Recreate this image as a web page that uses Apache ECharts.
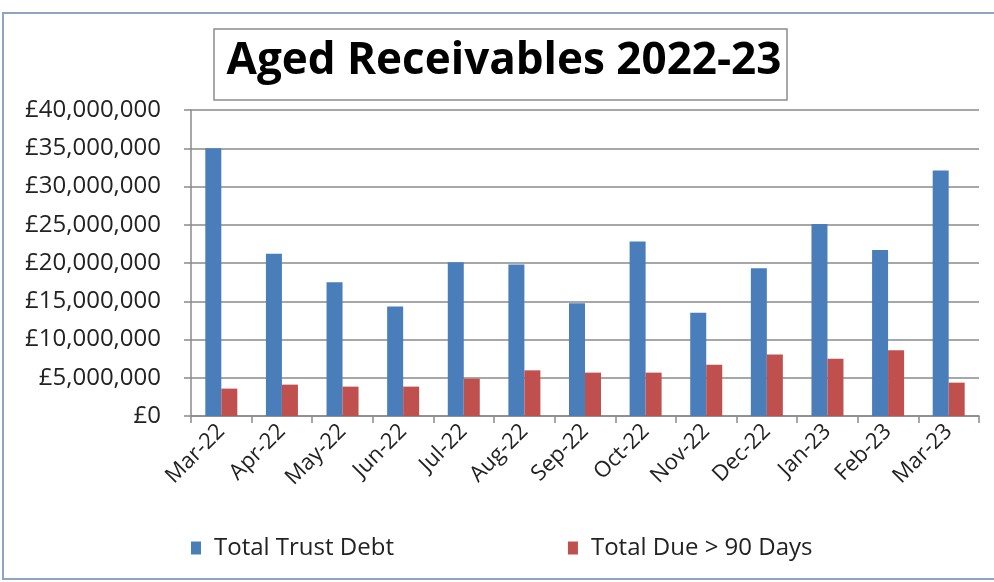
<!DOCTYPE html>
<html lang="en">
<head>
  <meta charset="UTF-8">
  <title>Aged Receivables 2022-23</title>
  <script src="https://cdn.jsdelivr.net/npm/echarts@6/dist/echarts.min.js"></script>
  <style>
    html, body { margin: 0; padding: 0; background: #fff; }
  </style>
</head>
<body>
<div id="main" style="width: 994px;height:582px;"></div>
<script>
  // months shown along the x axis
  var months = ['Mar-22', 'Apr-22', 'May-22', 'Jun-22', 'Jul-22', 'Aug-22', 'Sep-22',
                'Oct-22', 'Nov-22', 'Dec-22', 'Jan-23', 'Feb-23', 'Mar-23'];
  // values (GBP)
  var totalTrustDebt = [35000000, 21200000, 17500000, 14300000, 20100000, 19800000, 14750000,
                        22800000, 13500000, 19300000, 25100000, 21700000, 32100000];
  var totalDue90 = [3580000, 4100000, 3840000, 3840000, 4880000, 5970000, 5670000,
                    5670000, 6700000, 8050000, 7500000, 8580000, 4360000];

  var font = 'Open Sans';
  var myChart = echarts.init(document.getElementById('main'));

  myChart.setOption({
    backgroundColor: '#fff',
    animation: false,
    title: {
      text: 'Aged Receivables 2022-23',
      left: 499,
      top: 34,
      textAlign: 'center',
      textStyle: { fontFamily: font, fontWeight: 'bold', fontSize: 44, color: '#000' }
    },
    graphic: [{
      // light blue frame round the chart
      type: 'rect',
      shape: { x: 3, y: 13, width: 1010, height: 566 },
      style: { fill: 'none', stroke: '#8fa3c4', lineWidth: 2 },
      silent: true
    }, {
      // box round the title
      type: 'rect',
      shape: { x: 214, y: 29, width: 573, height: 71 },
      style: { fill: 'none', stroke: '#8c8c8c', lineWidth: 1.5 },
      silent: true
    }],
    legend: {
      bottom: 17,
      left: 186,
      itemWidth: 10,
      itemHeight: 13,
      itemGap: 174,
      icon: 'rect',
      textStyle: { fontFamily: font, fontSize: 24, color: '#222', padding: [0, 0, 0, 8] },
      data: ['Total Trust Debt', 'Total Due > 90 Days']
    },
    grid: { left: 191, right: 15, top: 110, bottom: 166 },
    xAxis: {
      type: 'category',
      data: months,
      axisLine: { lineStyle: { color: '#8a8a8a', width: 1.5 } },
      axisTick: { show: true, length: 7, lineStyle: { color: '#8a8a8a', width: 1.5 } },
      axisLabel: { rotate: 45, fontFamily: font, fontSize: 22, color: '#222', margin: 12 }
    },
    yAxis: {
      type: 'value',
      min: 0,
      max: 40000000,
      interval: 5000000,
      axisLine: { show: true, lineStyle: { color: '#8a8a8a', width: 1.5 } },
      axisTick: { show: true, length: 7, lineStyle: { color: '#8a8a8a', width: 1.5 } },
      splitLine: { lineStyle: { color: '#8a8a8a', width: 1.5 } },
      axisLabel: {
        fontFamily: font, fontSize: 24, color: '#222', margin: 30,
        formatter: function (v) { return '£' + v.toLocaleString('en-GB'); }
      }
    },
    series: [{
      name: 'Total Trust Debt',
      type: 'bar',
      data: totalTrustDebt,
      barWidth: 16,
      barGap: '0%',
      itemStyle: { color: '#4a7ebb' }
    }, {
      name: 'Total Due > 90 Days',
      type: 'bar',
      data: totalDue90,
      barWidth: 16,
      itemStyle: { color: '#c0504d' }
    }]
  });
</script>
</body>
</html>
